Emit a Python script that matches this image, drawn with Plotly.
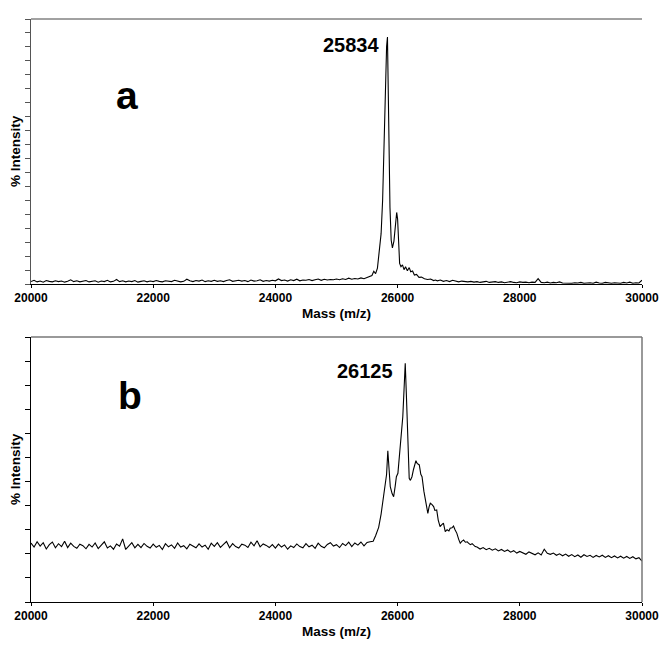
import plotly.graph_objects as go

# ---- panel a : spectrum with main peak at 25834 ----
# baseline region sampled every 50 Da (20000 .. 25550)
a_left_mass = list(range(20000, 25600, 50))
a_left_int = [
    0.9, 1.4, 0.8, 1.1, 0.7, 1.3, 1.0, 0.8, 1.2, 0.9,
    1.1, 0.7, 1.0, 1.6, 0.9, 1.2, 0.8, 1.0, 1.3, 0.8,
    1.0, 1.2, 0.7, 1.1, 0.9, 1.4, 0.8, 1.0, 1.7, 0.9,
    1.2, 0.8, 1.1, 0.9, 1.3, 0.7, 1.0, 1.2, 0.8, 1.1,
    0.9, 1.3, 1.0, 0.8, 1.2, 1.0, 0.9, 1.4, 1.1, 0.8,
    1.0, 1.8, 1.2, 0.9, 1.3, 1.1, 1.5, 0.9, 1.2, 1.0,
    1.4, 1.0, 1.2, 0.9, 1.3, 1.6, 1.0, 1.2, 1.4, 1.1,
    1.3, 0.9, 1.5, 1.1, 1.2, 1.6, 1.0, 1.3, 1.1, 1.4,
    1.2, 1.9, 1.3, 1.5, 1.1, 1.6, 1.3, 1.8, 1.2, 1.5,
    1.4, 1.7, 1.3, 1.6, 1.9, 1.4, 1.8, 1.5, 1.7, 1.6,
    1.9, 1.6, 2.0, 1.7, 2.2, 1.8, 2.1, 1.9, 2.3, 2.0,
    2.4, 2.8,
]
# peak region
a_peak_mass = [25580, 25610, 25640, 25670, 25700, 25730, 25755, 25775, 25790,
               25805, 25820, 25834, 25845, 25858, 25875, 25895, 25915, 25940,
               25965, 25985, 26000, 26016, 26033, 26055, 26080, 26105, 26130,
               26160, 26190, 26215, 26245, 26275, 26310, 26350, 26390, 26440,
               26490, 26540, 26590, 26620]
a_peak_int = [3.2, 4.8, 3.9, 6.0, 11.7, 19.0, 31.7, 50.6, 68.0,
              75.8, 89.6, 93.2, 69.0, 44.3, 29.0, 16.6, 13.6, 16.2,
              21.9, 27.0, 24.5, 16.6, 7.8, 6.5, 7.2, 5.4, 6.5,
              5.0, 6.2, 4.6, 4.9, 3.4, 3.6, 2.5, 2.6, 2.0,
              1.7, 1.9, 1.3, 1.5]
# tail region sampled every 50 Da (26650 .. 30000)
a_right_mass = list(range(26650, 30001, 50))
a_right_int = [
    1.2, 1.5, 1.0, 1.3, 0.9, 1.4, 1.0, 0.8, 1.1, 0.9,
    0.8, 1.0, 0.7, 0.9, 0.6, 0.8, 1.0, 0.6, 0.7, 0.9,
    0.6, 0.8, 0.5, 0.7, 0.9, 0.6, 0.5, 0.8, 0.6, 0.7,
    0.5, 0.7, 0.6, 2.0, 0.6, 0.5, 0.7, 0.4, 0.6, 0.5,
    0.8, 0.4, 0.3, 0.3, 0.3, 0.5, 0.4, 0.6, 0.3, 0.4,
    0.5, 0.3, 0.7, 0.4, 0.3, 0.6, 0.4, 0.3, 0.5, 0.4,
    0.3, 0.6, 0.4, 0.7, 0.3, 0.5, 0.4, 1.4,
]

# ---- panel b : spectrum with main peak at 26125 ----
b_left_mass = list(range(20000, 25600, 50))
b_left_int = [
    24.5, 22.8, 25.0, 23.2, 24.6, 22.0, 23.8, 24.9, 22.5, 24.2,
    23.0, 25.2, 22.6, 24.4, 23.1, 22.3, 24.0, 23.4, 22.1, 23.9,
    22.8, 24.5, 22.2, 23.6, 25.0, 22.4, 23.3, 21.9, 24.1, 23.2,
    26.2, 21.8, 23.0, 24.6, 22.5, 23.9, 22.6, 24.3, 23.1, 22.4,
    24.0, 22.7, 23.5, 21.8, 24.2, 22.9, 23.7, 22.3, 24.5, 22.8,
    23.4, 22.1, 24.0, 23.2, 22.5, 24.1, 22.8, 23.6, 21.9, 24.4,
    23.1, 24.6, 22.7, 23.9, 25.1, 22.5, 24.2, 23.0, 22.4, 24.0,
    23.6, 22.6, 24.8, 23.3, 25.4, 22.9, 24.1, 23.5, 22.6, 23.8,
    22.4, 24.0, 22.8, 23.7, 21.9, 23.3, 22.6, 24.1, 23.0, 22.5,
    24.2, 22.9, 23.6, 22.3, 24.4, 23.1, 22.5, 23.9, 24.6, 23.2,
    23.8, 22.6, 24.3, 23.4, 24.8, 23.0, 24.5, 23.6, 24.9, 23.3,
    24.7, 25.0,
]
b_peak_mass = [25600, 25640, 25690, 25730, 25770, 25805, 25820, 25840, 25860,
               25880, 25910, 25935, 25960, 25980, 26005, 26030, 26045, 26065,
               26085, 26105, 26125, 26145, 26165, 26190, 26210, 26235, 26260,
               26280, 26300, 26320, 26355, 26380, 26400, 26430, 26455, 26480,
               26495, 26515, 26535, 26560, 26590, 26610, 26640, 26665, 26695,
               26720, 26750, 26780, 26810, 26840, 26860, 26890, 26915, 26940,
               26970, 27000, 27025, 27050, 27080, 27110, 27140, 27160, 27190,
               27220, 27250, 27270]
b_peak_int = [25.2, 27.5, 31.0, 36.5, 43.0, 49.5, 53.0, 62.8, 55.0,
              47.9, 45.0, 43.7, 48.0, 52.0, 53.4, 60.0, 65.9, 71.0,
              76.9, 88.0, 99.1, 85.0, 72.8, 51.3, 50.5, 52.0, 55.0,
              57.6, 58.7, 57.5, 56.9, 53.0, 52.0, 46.0, 42.3, 38.5,
              36.8, 39.5, 41.0, 40.5, 39.6, 38.0, 38.2, 34.0, 31.3,
              32.0, 32.7, 29.2, 30.0, 29.5, 30.6, 30.8, 31.5, 30.0,
              28.5, 26.0, 24.4, 25.2, 25.7, 24.8, 25.0, 24.4, 23.8,
              24.2, 23.3, 23.0]
b_right_mass = list(range(27300, 30001, 50))
b_right_int = [
    22.8, 22.0, 22.6, 21.7, 22.3, 21.5, 22.1, 21.2, 21.8, 21.0,
    21.6, 20.7, 21.3, 20.3, 21.0, 20.5, 19.8, 20.8, 20.1, 19.6,
    20.4, 19.5, 21.9, 20.2, 19.8, 20.3, 19.4, 20.0, 19.2, 19.9,
    19.0, 19.7, 18.8, 19.5, 18.6, 19.6, 18.9, 19.4, 18.5, 19.3,
    18.7, 19.4, 18.5, 19.2, 18.4, 19.1, 18.3, 19.0, 18.2, 18.9,
    18.1, 18.8, 17.9, 18.4, 17.0,
]

mass_ticks = [20000, 22000, 24000, 26000, 28000, 30000]
mass_tick_text = ["<b>%d</b>" % m for m in mass_ticks]
peak_labels = ["25834", "26125"]
panel_labels = ["a", "b"]

a_mass = a_left_mass + a_peak_mass + a_right_mass
a_int = a_left_int + a_peak_int + a_right_int
b_mass = b_left_mass + b_peak_mass + b_right_mass
b_int = b_left_int + b_peak_int + b_right_int

FONT = "Liberation Sans, Arial, sans-serif"
# page body has an 8px margin, so the figure is laid out 8px in from the window edge
W, H = 659, 641
X0, X1 = 23 / W, 634 / W
top_dom = [1 - 276 / H, 1 - 11 / H]
bot_dom = [1 - 594 / H, 1 - 329 / H]

fig = go.Figure()
fig.add_trace(go.Scatter(x=a_mass, y=a_int, mode="lines", xaxis="x", yaxis="y",
                         line=dict(color="black", width=1.1), showlegend=False))
fig.add_trace(go.Scatter(x=b_mass, y=b_int, mode="lines", xaxis="x2", yaxis="y3",
                         line=dict(color="black", width=1.1), showlegend=False))

xaxis_common = dict(
    range=[20000, 30000], tickvals=mass_ticks, ticktext=mass_tick_text,
    ticks="outside", ticklen=3, automargin=False,
    tickcolor="black", showline=True, linecolor="black", linewidth=1,
    showgrid=False, zeroline=False,
    tickfont=dict(family=FONT, size=12, color="black"),
    title=dict(text="<b>Mass (m/z)</b>", standoff=4,
               font=dict(family=FONT, size=13.5, color="black")),
)
yaxis_common = dict(
    showticklabels=False, ticks="outside", ticklen=5, showgrid=False,
    zeroline=False, showline=True, linewidth=1, automargin=False,
    title=dict(text="<b>% Intensity</b>", standoff=3,
               font=dict(family=FONT, size=13.5, color="black")),
)

fig.update_layout(
    width=W, height=H,
    margin=dict(l=0, r=0, t=0, b=0),
    plot_bgcolor="white", paper_bgcolor="white",
    xaxis=dict(domain=[X0, X1], anchor="y", **xaxis_common),
    xaxis2=dict(domain=[X0, X1], anchor="y3", **xaxis_common),
    yaxis=dict(domain=top_dom, anchor="x", range=[0, 100], tick0=0, dtick=100 / 19,
               linecolor="#555", tickcolor="#555", **yaxis_common),
    yaxis2=dict(overlaying="y", side="right", anchor="x", range=[0, 100], dtick=10,
                showticklabels=False, ticks="outside", ticklen=6, tickcolor="#777",
                showline=True, linecolor="#777", linewidth=1, showgrid=False,
                zeroline=False, automargin=False),
    yaxis3=dict(domain=bot_dom, anchor="x2", range=[0, 110], dtick=10,
                linecolor="black", tickcolor="black", **yaxis_common),
)

# frame: top edges and right edge of lower panel
fig.add_shape(type="line", xref="x domain", yref="y domain", x0=0, x1=1, y0=1, y1=1,
              line=dict(color="#444", width=1))
fig.add_shape(type="line", xref="x2 domain", yref="y3 domain", x0=0, x1=1, y0=1, y1=1,
              line=dict(color="#777", width=1.5))
fig.add_shape(type="line", xref="x2 domain", yref="y3 domain", x0=1, x1=1, y0=0, y1=1,
              line=dict(color="#777", width=1.5))

# panel letters and peak labels
for xref, yref, lx, ly, lab in [("x", "y domain", 21571, 0.71, panel_labels[0]),
                                ("x2", "y3 domain", 21620, 0.78, panel_labels[1])]:
    fig.add_annotation(x=lx, y=ly, xref=xref, yref=yref, text="<b>%s</b>" % lab,
                       showarrow=False, xanchor="center", yanchor="middle",
                       font=dict(family=FONT, size=39, color="black"))
for xref, yref, lx, ly, lab in [("x", "y domain", 25237, 0.902, peak_labels[0]),
                                ("x2", "y3 domain", 25466, 0.873, peak_labels[1])]:
    fig.add_annotation(x=lx, y=ly, xref=xref, yref=yref, text="<b>%s</b>" % lab,
                       showarrow=False, xanchor="center", yanchor="middle",
                       font=dict(family=FONT, size=20, color="black"))

fig.write_html("out.html")
